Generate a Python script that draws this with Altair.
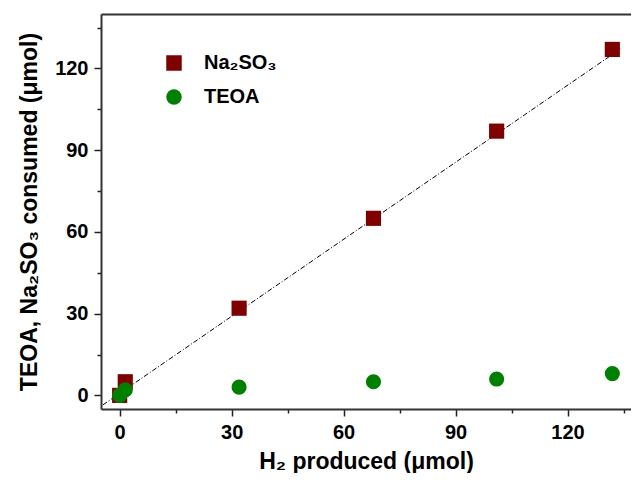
import altair as alt
import pandas as pd

# Data
h2_produced = [0, 1.5, 32, 68, 101, 132]
na2so3_consumed = [0, 5, 32, 65, 97, 127]
teoa_consumed = [0, 2, 3, 5, 6, 8]
series_names = ["Na₂SO₃", "TEOA"]
series_colors = ["#800000", "#008000"]
series_shapes = ["square", "circle"]
fit_x = [-4.5, 134.5]
fit_y = [-3.5, 127.5]
x_ticks = [0, 15, 30, 45, 60, 75, 90, 105, 120, 135]
y_ticks = [0, 15, 30, 45, 60, 75, 90, 105, 120, 135]

rows = []
for name, values in zip(series_names, [na2so3_consumed, teoa_consumed]):
    for xv, yv in zip(h2_produced, values):
        rows.append({"h2": xv, "val": yv, "series": name})
df = pd.DataFrame(rows)
fit_df = pd.DataFrame({"h2": fit_x, "val": fit_y})

FONT = "Liberation Sans"
major_tick = {"condition": {"test": "datum.value % 30 === 0", "value": 7}, "value": 4}
label_expr = "datum.value % 30 === 0 ? datum.label : ''"
x_scale = alt.Scale(domain=[-5, 137], nice=False, zero=False)

y_enc = alt.Y(
    "val:Q",
    scale=alt.Scale(domain=[-5, 140], nice=False, zero=False),
    axis=alt.Axis(
        title="TEOA, Na₂SO₃ consumed (μmol)",
        values=y_ticks,
        labelExpr=label_expr,
        tickSize=major_tick,
        grid=False,
        labelPadding=6,
        titlePadding=13,
    ),
)

# fit line carries the top frame line as an unlabeled top axis
fit_line = alt.Chart(fit_df).mark_line(
    color="black", strokeWidth=1, strokeDash=[5, 2, 1, 2]
).encode(
    x=alt.X(
        "h2:Q",
        scale=x_scale,
        axis=alt.Axis(orient="top", labels=False, ticks=False, title=None,
                      grid=False, domain=True),
    ),
    y=y_enc,
)

points = alt.Chart(df).mark_point(
    filled=True, size=230, opacity=1, strokeWidth=0
).encode(
    x=alt.X(
        "h2:Q",
        scale=x_scale,
        axis=alt.Axis(
            title="H₂ produced (μmol)",
            values=x_ticks,
            labelExpr=label_expr,
            tickSize=major_tick,
            grid=False,
            labelPadding=6,
            titlePadding=8,
        ),
    ),
    y=y_enc,
    color=alt.Color(
        "series:N",
        scale=alt.Scale(domain=series_names, range=series_colors),
        legend=alt.Legend(
            title=None,
            orient="none",
            legendX=63,
            legendY=39,
            padding=0,
            rowPadding=14,
            labelOffset=20,
            labelFontSize=20,
            labelFontWeight="bold",
            labelFont=FONT,
            labelColor="black",
            symbolSize=240,
            symbolOpacity=1,
            symbolStrokeWidth=0,
        ),
    ),
    shape=alt.Shape(
        "series:N",
        scale=alt.Scale(domain=series_names, range=series_shapes),
    ),
)

chart = alt.layer(fit_line, points).resolve_axis(x="independent").properties(
    width=530,
    height=395,
    autosize=alt.AutoSizeParams(type="none"),
    padding={"left": 93, "top": 6, "right": 0, "bottom": 64},
    background="white",
).configure_view(
    stroke=None
).configure_axis(
    labelFont=FONT,
    titleFont=FONT,
    labelFontSize=20,
    labelFontWeight="bold",
    labelColor="black",
    titleFontSize=23,
    titleFontWeight="bold",
    titleColor="black",
    domainColor="#333333",
    domainWidth=2,
    tickColor="#222222",
    tickWidth=1.5,
)

chart.save("out.html", embed_options={"renderer": "svg", "actions": False})
